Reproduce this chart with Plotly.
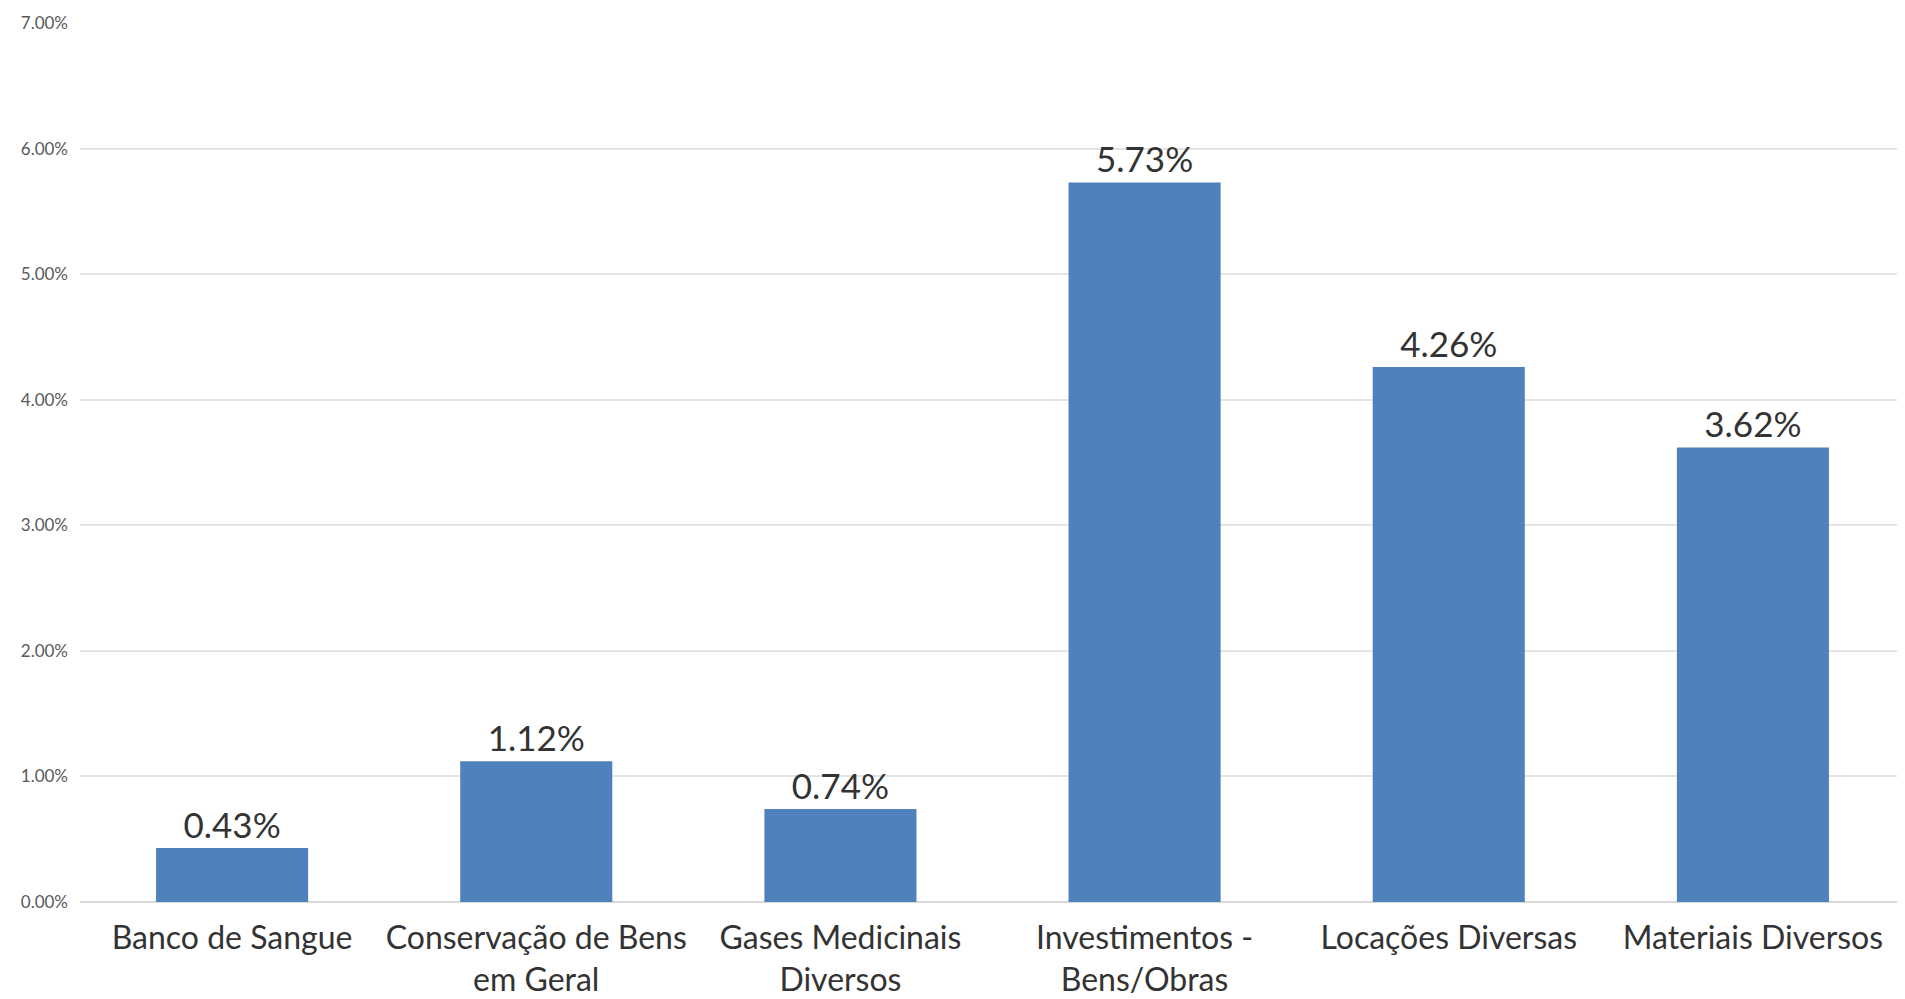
import plotly.graph_objects as go

categories = [
    "Banco de Sangue",
    "Conservação de Bens<br>em Geral",
    "Gases Medicinais<br>Diversos",
    "Investimentos -<br>Bens/Obras",
    "Locações Diversas",
    "Materiais Diversos",
]
values = [0.43, 1.12, 0.74, 5.73, 4.26, 3.62]
tick_values = [0, 1, 2, 3, 4, 5, 6, 7]
tick_labels = ["0.00%", "1.00%", "2.00%", "3.00%", "4.00%", "5.00%", "6.00%", "7.00%"]

fig = go.Figure()
fig.add_bar(
    x=categories,
    y=values,
    marker_color="#4f81bd",
    marker_line_width=0,
    text=[f"{v:.2f}%" for v in values],
    textposition="outside",
    textfont=dict(family="Lato", size=35, color="#333333"),
    cliponaxis=False,
)
# the page body has an 8px margin, so the div is shifted by 8px
fig.update_layout(
    width=1897,
    height=991,
    margin=dict(l=72, r=0, t=15, b=97),
    paper_bgcolor="white",
    plot_bgcolor="white",
    bargap=0.5,
    showlegend=False,
    font=dict(family="Lato", color="#404040"),
)
fig.update_xaxes(
    tickfont=dict(size=32, color="#333333"),
    ticks="",
    showline=False,
    ticklabelstandoff=14,
)
fig.update_yaxes(
    range=[0, 7],
    tickvals=tick_values,
    ticktext=tick_labels,
    tickfont=dict(size=17, color="#595959"),
    gridcolor="#e4e4e4",
    gridwidth=2,
    zeroline=True,
    zerolinecolor="#d9d9d9",
    zerolinewidth=2,
    ticklabelstandoff=11,
)
fig.write_html("out.html")
